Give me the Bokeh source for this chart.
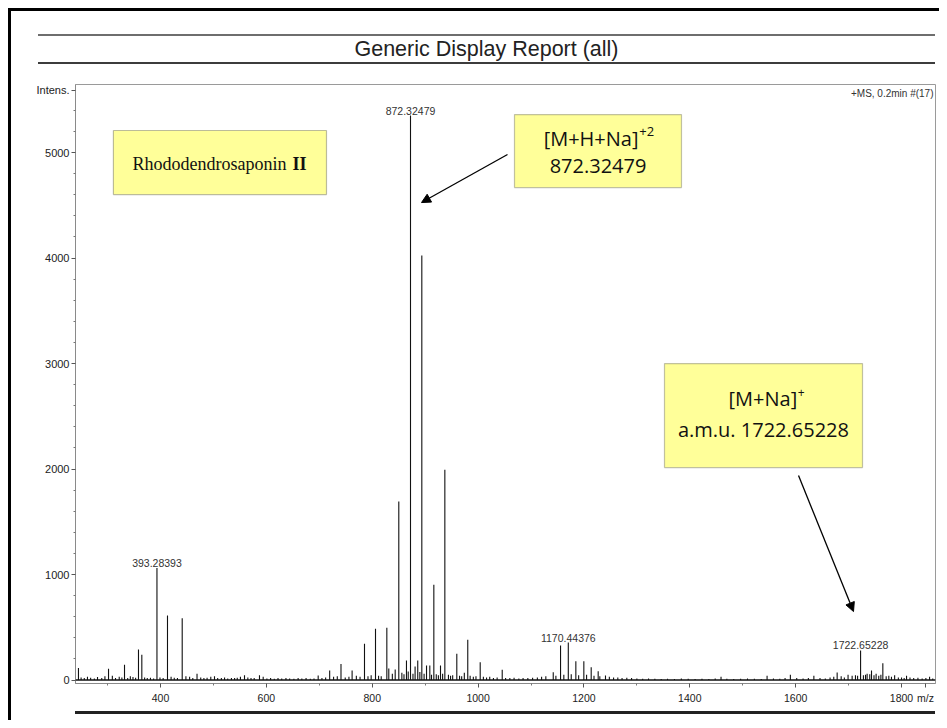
from bokeh.plotting import figure
from bokeh.models import (ColumnDataSource, Label, BoxAnnotation, Arrow, NormalHead,
                          Span, Div, FixedTicker, Range1d)
from bokeh.layouts import column, row
from bokeh.core.properties import value
from bokeh.embed import file_html
from bokeh.resources import INLINE

# ---------------- data ----------------
peak_mz = [245, 301.8, 332, 358.4, 364.7, 393.28393, 413.2, 441, 469, 551,
           558.7, 587, 697.9, 719.6, 741, 762, 785.4, 806.2, 827.6, 831.3,
           843.4, 850.2, 864.7, 872.32479, 881, 886, 893.7, 902.6, 908.8, 916.4,
           929, 937.2, 959.8, 974, 980.5, 1004, 1045.6, 1142, 1155.8, 1170.44376,
           1184.7, 1199.8, 1213.7, 1226.9, 1240.7, 1459, 1546, 1590, 1634.4, 1678.4,
           1699, 1706.7, 1722.65228, 1735, 1743.3, 1752, 1764.7, 1787, 1809.5, 1853]
peak_intensity = [115, 106, 144, 289, 239, 1063, 611, 586, 60, 30,
                  45, 45, 43, 90, 153, 90, 343, 485, 495, 110,
                  100, 1692, 185, 5351, 128, 185, 4024, 137, 137, 902,
                  137, 1992, 248, 70, 381, 169, 97, 74, 327, 355,
                  178, 178, 122, 84, 43, 30, 40, 49, 40, 71,
                  50, 40, 280, 60, 90, 60, 159, 45, 40, 30]

noise_mz = [250, 256, 262, 268, 275, 281, 289, 295, 309, 315,
            322, 327, 338, 343, 348, 353, 370, 375, 381, 387,
            399, 405, 420, 426, 432, 448, 455, 461, 476, 482,
            488, 495, 502, 508, 515, 521, 527, 534, 540, 545,
            565, 571, 577, 594, 601, 608, 615, 622, 629, 637,
            644, 652, 660, 667, 675, 683, 690, 705, 712, 727,
            734, 749, 756, 770, 777, 792, 798, 812, 817, 838,
            856, 860, 868, 877, 890, 898, 912, 921, 925, 933,
            944, 948, 952, 965, 969, 985, 991, 996, 1010, 1016,
            1022, 1029, 1036, 1052, 1060, 1068, 1077, 1085, 1094, 1103,
            1112, 1120, 1128, 1147, 1162, 1176, 1190, 1205, 1219, 1230,
            1248, 1256, 1264, 1272, 1281, 1290, 1300, 1311, 1322, 1334,
            1346, 1358, 1371, 1384, 1397, 1410, 1423, 1436, 1448, 1470,
            1483, 1496, 1509, 1522, 1535, 1558, 1570, 1580, 1602, 1614,
            1624, 1646, 1656, 1665, 1672, 1686, 1692, 1713, 1717, 1728,
            1732, 1740, 1748, 1757, 1761, 1771, 1776, 1781, 1794, 1800,
            1805, 1816, 1823, 1831, 1839, 1846, 1859]
noise_intensity = [25, 18, 30, 22, 15, 28, 20, 35, 40, 18,
                   30, 25, 20, 35, 28, 22, 25, 18, 22, 15,
                   25, 20, 30, 22, 18, 35, 30, 20, 25, 18,
                   22, 30, 35, 20, 18, 25, 15, 20, 18, 22,
                   25, 18, 20, 30, 15, 20, 12, 18, 15, 20,
                   15, 12, 20, 15, 18, 12, 15, 20, 25, 30,
                   35, 25, 30, 40, 30, 35, 45, 40, 35, 60,
                   70, 55, 80, 60, 75, 60, 50, 55, 45, 60,
                   50, 40, 45, 40, 35, 40, 30, 35, 30, 25,
                   30, 20, 25, 20, 18, 22, 15, 20, 18, 22,
                   25, 30, 35, 40, 50, 55, 45, 50, 40, 35,
                   30, 25, 25, 20, 22, 18, 15, 12, 15, 12,
                   10, 12, 10, 15, 12, 10, 12, 10, 15, 12,
                   10, 12, 15, 12, 10, 15, 12, 20, 18, 15,
                   18, 20, 15, 25, 30, 35, 25, 45, 40, 45,
                   50, 55, 45, 40, 50, 35, 40, 30, 25, 25,
                   20, 25, 18, 22, 15, 18, 15]

label_mz = [393.28393, 872.32479, 1170.44376, 1722.65228]
label_intensity = [1063, 5351, 355, 280]
label_text = ["393.28393", "872.32479", "1170.44376", "1722.65228"]

# axis ticks (major, minor) and axis captions placed as tick labels
x_major_ticks = [400, 600, 800, 1000, 1200, 1400, 1600, 1800]
x_minor_ticks = [300, 500, 700, 900, 1100, 1300, 1500, 1700]
y_major_ticks = [0, 1000, 2000, 3000, 4000, 5000]
y_minor_ticks = [200, 400, 600, 800, 1200, 1400, 1600, 1800, 2200, 2400, 2600, 2800,
                 3200, 3400, 3600, 3800, 4200, 4400, 4600, 4800, 5200, 5400]
x_unit, x_unit_pos = "m/z", 1845.3
y_title, y_title_pos = "Intens.", 5590

title_text = "Generic Display Report (all)"
scan_info = "+MS, 0.2min #(17)"
compound_name = "Rhododendrosaponin"
compound_number = "II"
ion1_name, ion1_charge, ion1_value = "[M+H+Na]", "+2", "872.32479"
ion2_name, ion2_charge, ion2_value = "[M+Na]", "+", "a.m.u. 1722.65228"

X_START, X_END = 239.4, 1864.2
Y_START, Y_END = -33, 5645

SANS = "Liberation Sans"
BOX_FONT = "Open Sans"

# ---------------- main spectrum figure ----------------
p = figure(width=928, height=635,
           x_range=Range1d(X_START, X_END), y_range=Range1d(Y_START, Y_END),
           output_backend="svg", toolbar_location=None,
           min_border_left=64, min_border_right=4, min_border_top=8, min_border_bottom=28)
p.xgrid.visible = False
p.ygrid.visible = False
p.outline_line_color = "#9a9a9a"
p.outline_line_width = 1
p.background_fill_color = "white"
p.border_fill_color = "white"

p.xaxis.ticker = FixedTicker(ticks=x_major_ticks + [x_unit_pos], minor_ticks=x_minor_ticks)
p.yaxis.ticker = FixedTicker(ticks=y_major_ticks + [y_title_pos], minor_ticks=y_minor_ticks)
p.xaxis.major_label_overrides = {x_unit_pos: x_unit}
p.yaxis.major_label_overrides = {y_title_pos: y_title}
for ax in (p.xaxis[0], p.yaxis[0]):
    ax.axis_line_color = "#8a8a8a"
    ax.axis_line_width = 1
    ax.major_tick_line_color = "#555"
    ax.minor_tick_line_color = "#777"
    ax.major_tick_in = 0
    ax.major_tick_out = 4
    ax.minor_tick_in = 0
    ax.minor_tick_out = 2
    ax.major_label_text_font = SANS
    ax.major_label_text_color = "#222222"
p.xaxis.major_label_text_font_size = "10.5px"
p.yaxis.major_label_text_font_size = "11px"
p.xaxis.major_label_standoff = 4
p.yaxis.major_label_standoff = 2

src = ColumnDataSource(dict(mz=peak_mz + noise_mz,
                            intensity=peak_intensity + noise_intensity))
p.segment(x0="mz", y0=0, x1="mz", y1="intensity", source=src,
          line_color="#111111", line_width=1.1)
p.add_layout(Span(location=0, dimension="width", line_color="#111111", line_width=1.6))

lab_src = ColumnDataSource(dict(mz=label_mz, intensity=label_intensity, text=label_text))
p.text(x="mz", y="intensity", text="text", source=lab_src, text_align="center",
       text_baseline="bottom", y_offset=-1, text_font=value(SANS),
       text_font_size="10.5px", text_color="#333333")

p.add_layout(Label(x=X_END, y=5559, x_offset=-2, text=scan_info, text_align="right",
                   text_baseline="middle", text_font=SANS, text_font_size="10px",
                   text_color="#333"))

# compound box
p.add_layout(BoxAnnotation(left=311, right=713.6, top=5209, bottom=4602,
                           fill_color="#ffff99", fill_alpha=1,
                           line_color="#222", line_width=1.2))
p.add_layout(Label(x=638.0, y=4888, text=compound_name, text_align="right",
                   text_baseline="middle", text_font="Liberation Serif",
                   text_font_size="18px", text_color="#111"))
p.add_layout(Label(x=649.4, y=4888, text=compound_number, text_align="left",
                   text_baseline="middle", text_font="Liberation Serif",
                   text_font_size="18px", text_font_style="bold", text_color="#111"))

# ion 1 box
p.add_layout(BoxAnnotation(left=1068.8, right=1384.3, top=5360, bottom=4668,
                           fill_color="#ffff99", fill_alpha=1,
                           line_color="#333", line_width=1.2))
p.add_layout(Label(x=1303.1, y=5133, text=ion1_name, text_align="right",
                   text_baseline="middle", text_font=BOX_FONT, text_font_size="20px",
                   text_color="#111"))
p.add_layout(Label(x=1304.5, y=5195, text=ion1_charge, text_align="left",
                   text_baseline="middle", text_font=BOX_FONT, text_font_size="13px",
                   text_color="#111"))
p.add_layout(Label(x=1226.6, y=4869, text=ion1_value, text_align="center",
                   text_baseline="middle", text_font=BOX_FONT, text_font_size="20px",
                   text_color="#111"))
p.add_layout(Arrow(end=NormalHead(size=9, fill_color="black", line_color="black"),
                   x_start=1055.6, y_start=4981, x_end=893.1, y_end=4526,
                   line_color="black", line_width=1.3))

# ion 2 box
p.add_layout(BoxAnnotation(left=1352.2, right=1726.3, top=3000, bottom=2014,
                           fill_color="#ffff99", fill_alpha=1,
                           line_color="#333", line_width=1.2))
p.add_layout(Label(x=1602.9, y=2668, text=ion2_name, text_align="right",
                   text_baseline="middle", text_font=BOX_FONT, text_font_size="20px",
                   text_color="#111"))
p.add_layout(Label(x=1604.0, y=2725, text=ion2_charge, text_align="left",
                   text_baseline="middle", text_font=BOX_FONT, text_font_size="12px",
                   text_color="#111"))
p.add_layout(Label(x=1539.2, y=2377, text=ion2_value, text_align="center",
                   text_baseline="middle", text_font=BOX_FONT, text_font_size="20px",
                   text_color="#111"))
p.add_layout(Arrow(end=NormalHead(size=9, fill_color="black", line_color="black"),
                   x_start=1605.4, y_start=1938, x_end=1709.3, y_end=649,
                   line_color="black", line_width=1.3))

# ---------------- page frame, header and footer ----------------
flat = {"font-size": "0px", "line-height": "0px"}
left_bar = Div(text='<div style="width:3px;height:712px;background:#000;"></div>',
               width=3, height=712, margin=0, styles=flat)
top_bar = Div(text='<div style="width:928px;height:3px;background:#000;"></div>',
              width=928, height=3, margin=0, styles=flat)
header = Div(
    text=('<div style="padding:23px 0 0 27px;">'
          '<div style="box-sizing:border-box;width:897px;height:30px;'
          'border-top:2px solid #6e6e6e;border-bottom:2px solid #3c3c3c;text-align:center;'
          "font-family:'Liberation Sans';font-size:21.5px;line-height:26px;color:#222;\">"
          + title_text + '</div></div>'),
    width=928, height=65, margin=0)
footer = Div(
    text=('<div style="padding:0 0 0 64px;">'
          '<div style="width:860px;height:3px;background:#222;"></div></div>'),
    width=928, height=6, margin=0, styles=flat)

layout = row(left_bar, column(top_bar, header, p, footer, spacing=0),
             spacing=0, margin=(8, 0, 0, 8))

open("out.html", "w").write(file_html(layout, INLINE))
